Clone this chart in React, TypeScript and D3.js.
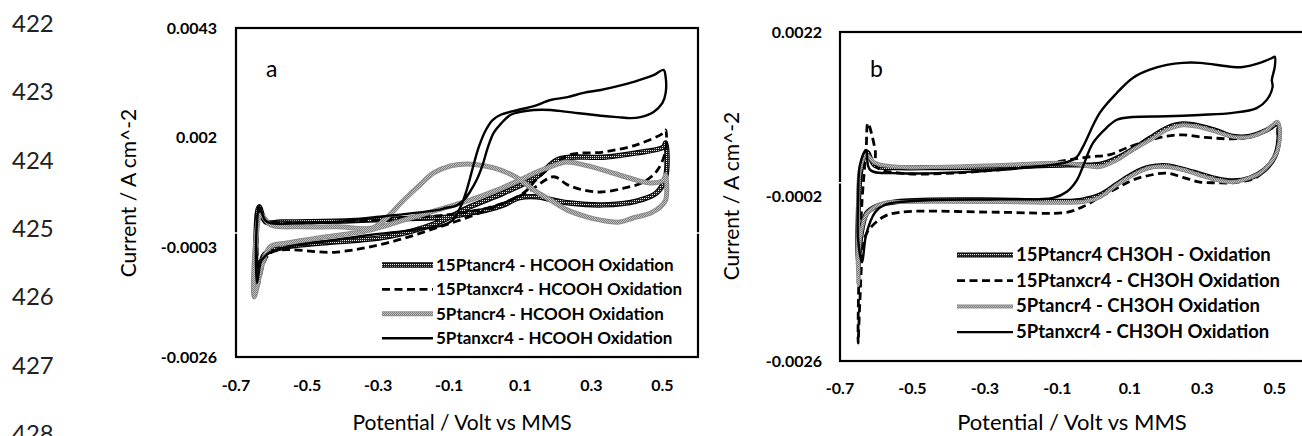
import React, { useEffect, useRef } from 'react';
import * as d3 from 'd3';

const width = 1302;
const height = 436;
const font = 'Lato, sans-serif';

const lineNumbers = ['422', '423', '424', '425', '426', '427', '428'];
const xTicks = [-0.7, -0.5, -0.3, -0.1, 0.1, 0.3, 0.5];
const yTicksA = [-0.0026, -0.0003, 0.002, 0.0043];
const yTicksB = [-0.0026, -0.0002, 0.0022];

const namesA = [
  '15Ptancr4 - HCOOH Oxidation',
  '15Ptanxcr4 - HCOOH Oxidation',
  '5Ptancr4 - HCOOH Oxidation',
  '5Ptanxcr4 - HCOOH Oxidation',
];
const namesB = [
  '15Ptancr4 CH3OH - Oxidation',
  '15Ptanxcr4 - CH3OH Oxidation',
  '5Ptancr4 - CH3OH Oxidation',
  '5Ptanxcr4 - CH3OH Oxidation',
];

// [potential V, current A cm^-2], one closed CV loop each
const a15ancr4: [number, number][] = [
  [-0.641, -0.00109], [-0.621, -0.00046], [-0.574, -0.00031], [-0.461, -0.00021], [-0.276, -0.00008],
  [-0.135, 0.00021], [-0.042, 0.00055], [0.053, 0.00084], [0.146, 0.00118], [0.202, 0.00153],
  [0.239, 0.00159], [0.334, 0.00159], [0.427, 0.00168], [0.503, 0.0018], [0.509, 0.00189],
  [0.509, 0.00118], [0.483, 0.00084], [0.427, 0.00067], [0.334, 0.00059], [0.239, 0.00063],
  [0.194, 0.00069], [0.146, 0.00076], [0.098, 0.00074], [0.053, 0.00059], [0.005, 0.00048],
  [-0.042, 0.00042], [-0.099, 0.00034], [-0.236, 0.0003], [-0.416, 0.00025], [-0.574, 0.00023],
  [-0.616, 0.00023], [-0.635, 0.00055], [-0.644, -0.00015],
];
const a15anxcr4: [number, number][] = [
  [-0.635, -0.00098], [-0.604, -0.00042], [-0.416, -0.0004], [-0.276, -0.00021], [-0.135, 0.00011],
  [0.005, 0.00048], [0.109, 0.00084], [0.146, 0.00113], [0.194, 0.00143], [0.239, 0.00164],
  [0.334, 0.0017], [0.427, 0.00185], [0.503, 0.0021], [0.509, 0.00216], [0.509, 0.00174],
  [0.486, 0.00132], [0.447, 0.00107], [0.391, 0.00094], [0.326, 0.00086], [0.278, 0.0009],
  [0.233, 0.00101], [0.194, 0.00118], [0.129, 0.0009], [0.073, 0.00069], [0.005, 0.00052],
  [-0.068, 0.00042], [-0.135, 0.00036], [-0.236, 0.0003], [-0.416, 0.00023], [-0.574, 0.00021],
  [-0.621, 0.00025], [-0.635, 0.00044], [-0.641, -0.00015], [-0.638, -0.00078],
];
const a5ancr4: [number, number][] = [
  [-0.649, -0.00134], [-0.624, -0.00061], [-0.604, -0.00029], [-0.557, -0.00021], [-0.464, -0.0001],
  [-0.323, 0.00006], [-0.228, 0.00027], [-0.135, 0.00048], [-0.042, 0.00069], [0.034, 0.0009],
  [0.098, 0.00111], [0.146, 0.00128], [0.185, 0.00139], [0.23, 0.00149], [0.278, 0.00143],
  [0.334, 0.00132], [0.427, 0.00111], [0.467, 0.00105], [0.503, 0.00111], [0.509, 0.00122],
  [0.509, 0.00069], [0.494, 0.00055], [0.467, 0.00042], [0.419, 0.00032], [0.379, 0.00023],
  [0.326, 0.00027], [0.287, 0.00034], [0.233, 0.00048], [0.185, 0.00069], [0.138, 0.0009],
  [0.093, 0.00115], [0.045, 0.00132], [-0.003, 0.00141], [-0.048, 0.00145], [-0.096, 0.00141],
  [-0.144, 0.00126], [-0.188, 0.00097], [-0.236, 0.00063], [-0.273, 0.00034], [-0.315, 0.00011],
  [-0.416, 0.00013], [-0.517, 0.00013], [-0.602, 0.00017], [-0.63, 0.00038], [-0.644, -0.00015],
];
const a5anxcr4: [number, number][] = [
  [-0.641, -0.00105], [-0.63, -0.0006], [-0.621, -0.00051], [-0.604, -0.0004], [-0.557, -0.00029],
  [-0.464, -0.00019], [-0.323, -0.00004], [-0.228, 0.00004], [-0.155, 0.00011], [-0.115, 0.00017],
  [-0.09, 0.00027], [-0.068, 0.00055], [-0.051, 0.0009], [-0.034, 0.00136], [-0.017, 0.0018],
  [0.003, 0.00216], [0.022, 0.00237], [0.045, 0.00248], [0.093, 0.00258], [0.138, 0.00266],
  [0.185, 0.00279], [0.233, 0.00285], [0.278, 0.00294], [0.326, 0.003], [0.374, 0.00308],
  [0.419, 0.00317], [0.475, 0.00331], [0.503, 0.00342], [0.509, 0.00327], [0.509, 0.00294],
  [0.5, 0.00273], [0.475, 0.00254], [0.438, 0.00243], [0.41, 0.00241], [0.374, 0.00243],
  [0.326, 0.00246], [0.233, 0.00254], [0.185, 0.00258], [0.138, 0.00258], [0.101, 0.00254],
  [0.073, 0.00248], [0.045, 0.00229], [0.025, 0.0021], [0.008, 0.00178], [-0.006, 0.00143],
  [-0.023, 0.00111], [-0.042, 0.00086], [-0.059, 0.00069], [-0.082, 0.00057], [-0.107, 0.00053],
  [-0.135, 0.00048], [-0.247, 0.00038], [-0.323, 0.00032], [-0.416, 0.00023], [-0.509, 0.00021],
  [-0.604, 0.00021], [-0.618, 0.00027], [-0.635, 0.00055], [-0.641, 0.0002], [-0.644, -0.0004],
];

const b15ancr4: [number, number][] = [
  [-0.65, -0.0012], [-0.642, -0.00076], [-0.626, -0.00044], [-0.598, -0.00034], [-0.534, -0.00027],
  [-0.259, -0.00025], [-0.074, -0.00027], [-0.03, -0.00025], [0.017, -0.00018], [0.064, -0.00002],
  [0.108, 0.00013], [0.155, 0.00023], [0.202, 0.00025], [0.246, 0.0002], [0.293, 0.00013],
  [0.34, 0.00006], [0.384, 0.00003], [0.431, 0.00007], [0.472, 0.00019], [0.5, 0.00038],
  [0.511, 0.00062], [0.508, 0.00086], [0.478, 0.00077], [0.431, 0.00068], [0.384, 0.00068],
  [0.34, 0.00076], [0.293, 0.00083], [0.246, 0.00086], [0.202, 0.0008], [0.155, 0.00065],
  [0.108, 0.00049], [0.064, 0.00036], [0.017, 0.00027], [-0.074, 0.00026], [-0.259, 0.00023],
  [-0.443, 0.00022], [-0.534, 0.00022], [-0.603, 0.00025], [-0.626, 0.00045], [-0.642, 0.00019],
  [-0.65, -0.00054],
];
const b15anxcr4: [number, number][] = [
  [-0.65, -0.00234], [-0.645, -0.00171], [-0.637, -0.00098], [-0.626, -0.00073], [-0.581, -0.0005],
  [-0.534, -0.00043], [-0.259, -0.00043], [-0.074, -0.00043], [-0.03, -0.00035], [0.017, -0.00021],
  [0.064, -0.00008], [0.108, 0.00004], [0.155, 0.00011], [0.202, 0.00014], [0.246, 0.00008],
  [0.293, 0.00001], [0.34, 0.0], [0.384, 0.0], [0.45, 0.00008], [0.478, 0.00023],
  [0.506, 0.00048], [0.508, 0.00073], [0.506, 0.00081], [0.478, 0.00077], [0.431, 0.00067],
  [0.384, 0.00064], [0.34, 0.00065], [0.293, 0.00067], [0.246, 0.0007], [0.202, 0.00068],
  [0.155, 0.00062], [0.092, 0.00051], [0.045, 0.00041], [-0.01, 0.00038], [-0.074, 0.00033],
  [-0.259, 0.00019], [-0.534, 0.00014], [-0.598, 0.00023], [-0.603, 0.00048], [-0.623, 0.00087],
  [-0.628, 0.00048], [-0.639, -0.00025], [-0.648, -0.00142],
];
const b5ancr4: [number, number][] = [
  [-0.65, -0.00149], [-0.645, -0.00083], [-0.628, -0.00047], [-0.603, -0.00035], [-0.576, -0.00029],
  [-0.534, -0.00028], [-0.259, -0.00028], [-0.074, -0.00029], [-0.03, -0.00028], [0.017, -0.00021],
  [0.064, -0.00003], [0.108, 0.00011], [0.155, 0.00022], [0.202, 0.00023], [0.246, 0.00019],
  [0.293, 0.00011], [0.34, 0.00004], [0.384, 0.00001], [0.412, 0.00004], [0.459, 0.00014],
  [0.494, 0.00033], [0.508, 0.00048], [0.514, 0.00073], [0.508, 0.00089], [0.478, 0.00077],
  [0.431, 0.00067], [0.384, 0.00067], [0.34, 0.00074], [0.293, 0.00081], [0.246, 0.00084],
  [0.202, 0.00077], [0.155, 0.00062], [0.108, 0.00048], [0.064, 0.00033], [0.017, 0.00023],
  [-0.074, 0.00029], [-0.259, 0.00026], [-0.443, 0.00023], [-0.534, 0.00023], [-0.603, 0.00029],
  [-0.628, 0.00041], [-0.645, 0.00019], [-0.65, -0.00054],
];
const b5anxcr4: [number, number][] = [
  [-0.603, -0.00043], [-0.576, -0.00032], [-0.534, -0.00028], [-0.443, -0.00025], [-0.259, -0.00024],
  [-0.112, -0.00022], [-0.074, -0.00013], [-0.046, 0.00004], [-0.03, 0.00023], [-0.002, 0.00058],
  [0.037, 0.00081], [0.064, 0.00092], [0.108, 0.00096], [0.202, 0.00097], [0.293, 0.00099],
  [0.384, 0.00102], [0.45, 0.00109], [0.478, 0.00121], [0.494, 0.0014], [0.492, 0.0015],
  [0.5, 0.00169], [0.5, 0.00184], [0.492, 0.00182], [0.459, 0.00175], [0.412, 0.00169],
  [0.384, 0.00169], [0.293, 0.00175], [0.246, 0.00175], [0.202, 0.00172], [0.155, 0.00165],
  [0.108, 0.00153], [0.064, 0.00131], [0.017, 0.00102], [-0.03, 0.00052], [-0.046, 0.00038],
  [-0.074, 0.0003], [-0.168, 0.00023], [-0.35, 0.00016], [-0.534, 0.00014], [-0.617, 0.00019],
  [-0.628, 0.00048], [-0.645, 0.00026], [-0.65, -0.00025], [-0.65, -0.00083], [-0.639, -0.00116],
  [-0.628, -0.00076],
];

const kinds = ['dotted', 'dashed', 'gray', 'solid'];

const panels = [
  {
    label: 'a', labelX: 266, xRange: [236, 698], yRange: [357, 28], yDomain: [-0.0026, 0.0043],
    yTicks: yTicksA, series: [a15ancr4, a15anxcr4, a5ancr4, a5anxcr4], names: namesA,
    tickRight: 217, xLabelY: 391, yTitleX: 136, yTitleY: 193, xTitleX: 462, xTitleSize: 21,
    legX: [382, 433], legY: 265, legGap: 24.4, legSize: 17, thick: 3, grayW: 3,
  },
  {
    label: 'b', labelX: 870, xRange: [840, 1311], yRange: [361, 32], yDomain: [-0.0026, 0.0022],
    yTicks: yTicksB, series: [b15ancr4, b15anxcr4, b5ancr4, b5anxcr4], names: namesB,
    tickRight: 822, xLabelY: 394, yTitleX: 739, yTitleY: 196, xTitleX: 1072, xTitleSize: 22,
    legX: [957, 1013], legY: 255, legGap: 25.7, legSize: 18.5, thick: 2.6, grayW: 2,
  },
];

const App = () => {
  const ref = useRef<SVGSVGElement | null>(null);

  useEffect(() => {
    const svg = d3.select(ref.current);
    svg.selectAll('*').remove();

    const defs = svg.append('defs');
    // dark stipple: three dark pixels, one light, per 2x2 cell
    const dk = defs.append('pattern').attr('id', 'dk').attr('patternUnits', 'userSpaceOnUse')
      .attr('width', 2).attr('height', 2);
    dk.append('rect').attr('width', 2).attr('height', 2).attr('fill', '#222');
    dk.append('rect').attr('width', 1).attr('height', 1).attr('fill', '#e8e8e8');
    const gr = defs.append('pattern').attr('id', 'gr').attr('patternUnits', 'userSpaceOnUse')
      .attr('width', 2).attr('height', 2);
    gr.append('rect').attr('width', 2).attr('height', 2).attr('fill', '#c4c4c4');
    gr.append('rect').attr('width', 1).attr('height', 1).attr('fill', '#7a7a7a');
    gr.append('rect').attr('x', 1).attr('y', 1).attr('width', 1).attr('height', 1).attr('fill', '#7a7a7a');

    // manuscript line numbers
    svg.selectAll('text.ln')
      .data(lineNumbers)
      .enter()
      .append('text')
      .attr('class', 'ln')
      .attr('x', 12)
      .attr('y', (d, i) => 32 + i * 68.3)
      .attr('font-family', font)
      .attr('font-size', 24)
      .attr('fill', '#222')
      .text(d => d);

    function stroke(g, kind: string, d: string, p) {
      if (kind === 'dotted') {
        g.append('path').attr('d', d).attr('fill', 'none').attr('stroke', '#000')
          .attr('stroke-width', p.thick + 2.4).attr('stroke-linejoin', 'round');
        g.append('path').attr('d', d).attr('fill', 'none').attr('stroke', 'url(#dk)')
          .attr('stroke-width', p.thick).attr('stroke-linejoin', 'round');
      } else if (kind === 'gray') {
        g.append('path').attr('d', d).attr('fill', 'none').attr('stroke', '#8c8c8c')
          .attr('stroke-width', p.grayW + 2).attr('stroke-linejoin', 'round');
        g.append('path').attr('d', d).attr('fill', 'none').attr('stroke', 'url(#gr)')
          .attr('stroke-width', p.grayW).attr('stroke-linejoin', 'round');
      } else if (kind === 'dashed') {
        g.append('path').attr('d', d).attr('fill', 'none').attr('stroke', '#000')
          .attr('stroke-width', 2.8).attr('stroke-dasharray', '8,4.5');
      } else {
        g.append('path').attr('d', d).attr('fill', 'none').attr('stroke', '#000')
          .attr('stroke-width', 2.4).attr('stroke-linejoin', 'round');
      }
    }

    panels.forEach(p => {
      const x = d3.scaleLinear().domain([-0.7, 0.6]).range(p.xRange);
      const y = d3.scaleLinear().domain(p.yDomain).range(p.yRange);
      const g = svg.append('g');

      g.append('rect')
        .attr('x', p.xRange[0]).attr('y', p.yRange[1])
        .attr('width', p.xRange[1] - p.xRange[0]).attr('height', p.yRange[0] - p.yRange[1])
        .attr('fill', 'none').attr('stroke', '#000').attr('stroke-width', 2.2);

      // horizontal axis at zero, drawn white like the source
      g.append('line')
        .attr('x1', p.xRange[0] - 3).attr('x2', p.xRange[1] + 3)
        .attr('y1', y(0)).attr('y2', y(0))
        .attr('stroke', '#fff').attr('stroke-width', 1.5);

      const line = d3.line<[number, number]>()
        .x(d => x(d[0]))
        .y(d => y(d[1]))
        .curve(d3.curveCatmullRomClosed.alpha(0.5));

      p.series.forEach((s, i) => stroke(g, kinds[i], line(s) as string, p));

      g.selectAll('text.yt')
        .data(p.yTicks)
        .enter()
        .append('text')
        .attr('x', p.tickRight)
        .attr('y', d => y(d) + 5.5)
        .attr('text-anchor', 'end')
        .attr('font-family', font).attr('font-weight', 'bold').attr('font-size', 16)
        .text(d => String(d));

      g.selectAll('text.xt')
        .data(xTicks)
        .enter()
        .append('text')
        .attr('x', d => x(d))
        .attr('y', p.xLabelY)
        .attr('text-anchor', 'middle')
        .attr('font-family', font).attr('font-weight', 'bold').attr('font-size', 16)
        .text(d => String(d));

      g.append('text')
        .attr('x', p.xTitleX).attr('y', 430)
        .attr('text-anchor', 'middle')
        .attr('font-family', font).attr('font-size', p.xTitleSize)
        .text('Potential / Volt vs MMS');

      g.append('text')
        .attr('transform', `translate(${p.yTitleX},${p.yTitleY}) rotate(-90)`)
        .attr('text-anchor', 'middle')
        .attr('font-family', font).attr('font-size', 21)
        .text('Current / A cm^-2');

      g.append('text')
        .attr('x', p.labelX).attr('y', 77)
        .attr('font-family', font).attr('font-size', 23)
        .text(p.label);

      // legend
      p.names.forEach((name, i) => {
        const ly = p.legY + i * p.legGap;
        stroke(g, kinds[i], `M${p.legX[0]},${ly}H${p.legX[1]}`, p);
        g.append('text')
          .attr('x', p.legX[1] + 3).attr('y', ly + 6)
          .attr('font-family', font).attr('font-weight', 'bold').attr('font-size', p.legSize)
          .text(name);
      });
    });
  }, []);

  return (
    <svg
      ref={ref}
      width={width}
      height={height}
      style={{ position: 'absolute', left: 0, top: 0, background: '#fff' }}
    />
  );
};

export default App;
